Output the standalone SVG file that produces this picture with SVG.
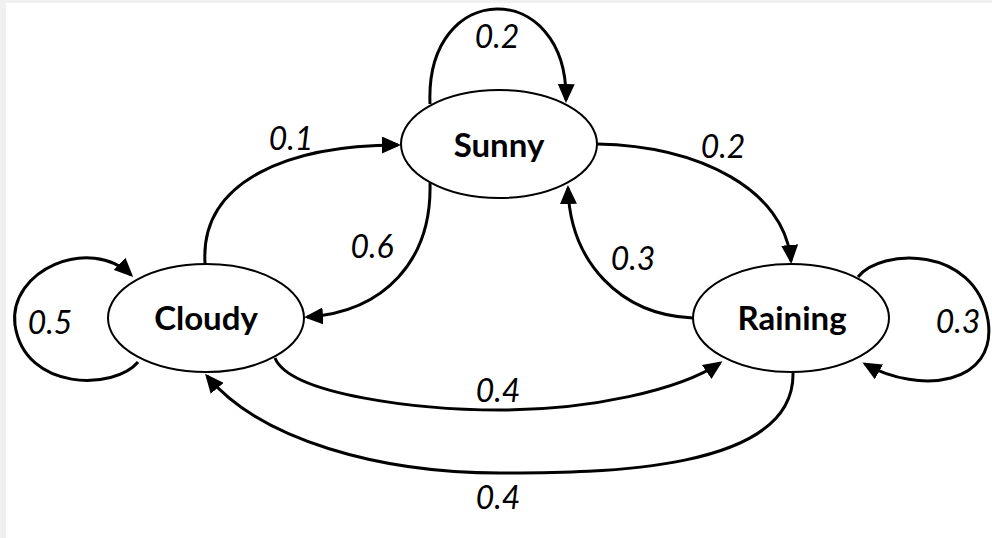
<svg xmlns="http://www.w3.org/2000/svg" width="992" height="538" viewBox="0 0 992 538">
<style>
.node{fill:#fff;stroke:#000;stroke-width:2}
.ntext{font-family:Lato,"Open Sans",sans-serif;font-weight:bold;font-size:33px;fill:#000;text-anchor:middle}
.edge{fill:none;stroke:#000;stroke-width:3;marker-end:url(#arr)}
.lbl{font-family:Lato,"Open Sans",sans-serif;font-style:italic;font-size:32px;fill:#000;text-anchor:middle}
</style>
<defs>
<marker id="arr" viewBox="0 0 19 17" refX="16" refY="8.5" markerWidth="19" markerHeight="17" markerUnits="userSpaceOnUse" orient="auto">
<path d="M0,0 L19,8.5 L0,17 z" fill="#000"/>
</marker>
</defs>
<rect x="0" y="0" width="992" height="538" fill="#f0f0f0"/>
<rect x="6" y="3" width="986" height="535" fill="#fff"/>
<g id="connectors">
<path class="edge" d="M430,104 C425,-22 568,-22 566,100"/>
<path class="edge" d="M597,144 C700,146 785,190 791,261"/>
<path class="edge" d="M693,318 C620,315 570,262 568,188"/>
<path class="edge" d="M430,183 C432,260 385,312 307,317"/>
<path class="edge" d="M205,263 C200,180 290,145 398,145"/>
<path class="edge" d="M138,362 C115,390 25,392 15,325 C8,270 90,235 131,275"/>
<path class="edge" d="M858,277 C880,248 975,245 988,320 C998,385 920,395 865,364"/>
<path class="edge" d="M275,358 C290,395 420,410 500,410 C590,410 680,390 720,363"/>
<path class="edge" d="M793,373 C795,472 600,473 500,473 C380,473 260,440 207,376"/>
</g>
<g id="labels">
<text class="lbl" x="497" y="48">0.2</text>
<text class="lbl" x="291" y="150">0.1</text>
<text class="lbl" x="723" y="158">0.2</text>
<text class="lbl" x="372" y="258">0.6</text>
<text class="lbl" x="633" y="270">0.3</text>
<text class="lbl" x="50" y="334">0.5</text>
<text class="lbl" x="958" y="333">0.3</text>
<text class="lbl" x="498" y="402">0.4</text>
<text class="lbl" x="498" y="509">0.4</text>
</g>
<g id="sunny">
<ellipse class="node" cx="499" cy="144" rx="98" ry="54"/>
<text class="ntext" x="499" y="157">Sunny</text>
</g>
<g id="cloudy">
<ellipse class="node" cx="206" cy="318" rx="98" ry="54"/>
<text class="ntext" x="206" y="330">Cloudy</text>
</g>
<g id="raining">
<ellipse class="node" cx="791" cy="318" rx="98" ry="54"/>
<text class="ntext" x="792" y="330">Raining</text>
</g>
</svg>
